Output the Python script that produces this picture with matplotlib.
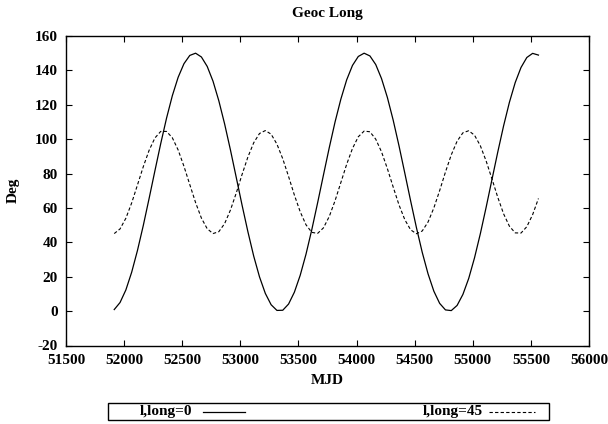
import matplotlib
matplotlib.use("Agg")
import matplotlib.pyplot as plt
from matplotlib.lines import Line2D
from matplotlib.patches import Rectangle

# MJD sample points (every 50 days)
mjd = [51915 + 50 * i for i in range(74)]

# l,long=0 curve (solid)
geoc_long_0 = [
    0.9, 5.0, 12.3, 22.6, 35.3, 49.8, 65.5, 81.6, 97.4, 112.2,
    125.3, 136.0, 143.9, 148.7, 150.0, 147.8, 142.3, 133.7, 122.3, 108.8,
    93.7, 77.7, 61.6, 46.2, 32.0, 19.9, 10.3, 3.7, 0.4, 0.5,
    4.1, 11.0, 20.8, 33.1, 47.4, 63.0, 79.1, 95.0, 110.0, 123.3,
    134.5, 142.9, 148.1, 150.0, 148.4, 143.4, 135.2, 124.3, 111.1, 96.2,
    80.3, 64.2, 48.6, 34.2, 21.7, 11.6, 4.5, 0.7, 0.3, 3.3,
    9.7, 19.0, 31.0, 45.0, 60.4, 76.5, 92.5, 107.7, 121.4, 132.9,
    141.7, 147.5, 149.9, 148.9,
]

# l,long=45 curve (dashed)
geoc_long_45 = [
    45.1, 47.8, 54.0, 62.9, 73.4, 84.0, 93.5, 100.7, 104.5, 104.5,
    100.8, 93.7, 84.2, 73.6, 63.1, 54.1, 47.9, 45.1, 46.2, 50.9,
    58.8, 68.7, 79.5, 89.6, 97.9, 103.3, 105.0, 102.9, 97.1, 88.6,
    78.3, 67.5, 57.8, 50.2, 45.8, 45.2, 48.4, 55.0, 64.2, 74.8,
    85.4, 94.6, 101.4, 104.7, 104.3, 100.0, 92.6, 82.9, 72.2, 61.8,
    53.2, 47.3, 45.0, 46.6, 51.8, 60.0, 70.1, 80.9, 90.9, 98.8,
    103.7, 104.9, 102.3, 96.2, 87.3, 76.9, 66.2, 56.6, 49.4, 45.5,
    45.4, 49.1, 56.1, 65.5,
]

x_ticks = [51500, 52000, 52500, 53000, 53500, 54000, 54500, 55000, 55500, 56000]
y_ticks = [-20, 0, 20, 40, 60, 80, 100, 120, 140, 160]
labels = ["l,long=0", "l,long=45"]

plt.rcParams['font.family'] = ['Liberation Serif', 'DejaVu Serif']
plt.rcParams['font.weight'] = 'bold'
plt.rcParams['axes.unicode_minus'] = False
fs = 11

fig = plt.figure(figsize=(6.08, 4.24), dpi=100)
ax = fig.add_axes([66 / 608, 1 - 345.5 / 424, (589 - 66) / 608, (345.5 - 36) / 424])

ax.plot(mjd, geoc_long_0, color='black', lw=0.9, linestyle='-')
ax.plot(mjd, geoc_long_45, color='black', lw=0.8, linestyle=(0, (3, 2)))

ax.set_xlim(51500, 56000)
ax.set_ylim(-20, 160)
ax.set_xticks(x_ticks)
ax.set_yticks(y_ticks)
ax.tick_params(direction='in', length=4, width=0.8, top=True, right=True,
               labelsize=fs)
ax.tick_params(axis='x', pad=6)
ax.tick_params(axis='y', pad=6)
for lab in ax.get_xticklabels() + ax.get_yticklabels():
    lab.set_fontweight('bold')
for sp in ax.spines.values():
    sp.set_linewidth(1.0)

ax.set_title("Geoc Long", fontsize=fs, fontweight='bold', pad=14)
ax.set_xlabel("MJD", fontsize=fs, fontweight='bold', labelpad=5)
ax.set_ylabel("Deg", fontsize=fs, fontweight='bold', labelpad=11)

# gnuplot-style key below the plot
W, H = 608.0, 424.0
fig.patches.append(Rectangle((108 / W, 1 - 420 / H), (549 - 108) / W, (420 - 403) / H,
                             transform=fig.transFigure, fill=False,
                             edgecolor='black', lw=1.0))
ky = 1 - 411.5 / H
fig.text(192 / W, ky, labels[0], ha='right', va='center', fontsize=fs, fontweight='bold')
fig.lines.append(Line2D([203 / W, 245 / W], [ky, ky], transform=fig.transFigure,
                        color='black', lw=0.9))
fig.text(483 / W, ky, labels[1], ha='right', va='center', fontsize=fs, fontweight='bold')
fig.lines.append(Line2D([489 / W, 535 / W], [ky, ky], transform=fig.transFigure,
                        color='black', lw=0.8, linestyle=(0, (3, 2))))

fig.savefig("out.png", dpi=100)
